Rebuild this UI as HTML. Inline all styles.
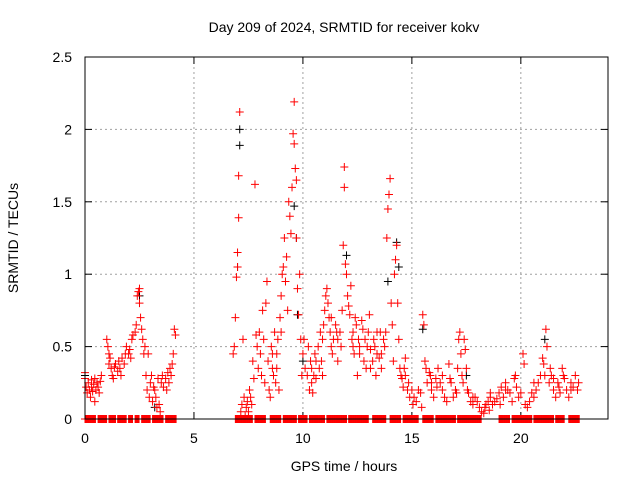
<!DOCTYPE html>
<html><head><meta charset="utf-8"><style>
body{margin:0;background:#fff}
svg{display:block;font-family:"Liberation Sans",sans-serif}
</style></head><body>
<svg id="c" width="640" height="480"></svg>
<script>
const xTicks=[0,5,10,15,20];
const yTicks=[0,0.5,1,1.5,2,2.5];
const yTickLabels=["0","0.5","1","1.5","2","2.5"];
const redTimes=[0,0,0.05,0.1,0.15,0.2,0.25,0.3,0.3,0.35,0.4,0.45,0.45,0.5,0.55,0.6,0.65,0.7,0.75,1.0,1.05,1.1,1.1,1.15,1.2,1.25,1.3,1.35,1.4,1.5,1.55,1.6,1.65,1.7,1.8,1.85,1.9,2.0,2.05,2.1,2.15,2.2,2.3,2.35,2.4,2.45,2.5,2.5,2.55,2.6,2.65,2.7,2.75,2.8,2.85,2.9,2.95,3.0,3.05,3.1,3.15,3.2,3.25,3.3,3.35,3.4,3.45,3.5,3.55,3.6,3.7,3.75,3.8,3.85,3.9,3.95,4.0,4.05,4.1,4.15,
6.8,6.85,6.9,6.95,7.0,7.0,7.05,7.05,7.1,7.15,7.2,7.25,7.3,7.35,7.4,7.45,7.5,7.55,7.6,7.65,7.7,7.75,7.8,7.85,7.9,7.95,8.0,8.05,8.1,8.15,8.2,8.25,8.3,8.35,8.4,8.45,8.5,8.55,8.6,8.65,8.7,8.75,8.8,8.85,8.9,8.95,9.0,9.05,9.1,9.15,9.2,9.25,9.3,9.35,9.4,9.45,9.5,9.55,9.6,9.6,9.65,9.7,9.7,9.75,9.8,9.85,9.9,9.95,10.0,10.05,10.1,10.2,10.25,10.3,10.35,10.4,10.45,10.5,10.55,10.6,10.7,10.75,10.8,10.85,10.9,10.95,11.0,11.05,11.1,11.15,11.2,11.25,11.3,11.35,11.4,11.5,11.55,11.6,11.7,11.75,11.8,11.85,11.9,11.9,11.95,12.0,12.05,12.1,12.15,12.2,12.25,12.3,12.35,12.4,12.45,12.5,12.55,12.6,12.7,12.75,12.8,12.85,12.9,12.95,13.0,13.05,13.1,13.2,13.25,13.3,13.35,13.4,13.5,13.55,13.6,13.7,13.75,13.8,13.85,13.9,13.95,14.0,14.05,14.1,14.15,14.2,14.25,14.3,14.35,14.4,14.45,14.5,14.55,14.6,14.65,14.7,14.8,14.85,14.9,15.0,15.05,15.1,15.2,15.3,15.4,15.45,15.5,15.55,15.6,15.65,15.7,15.8,15.85,15.9,16.0,16.1,16.15,16.2,16.3,16.4,16.5,16.6,16.7,16.75,16.8,16.9,17.0,17.05,17.1,17.15,17.2,17.25,17.3,17.35,17.4,17.45,17.5,17.55,17.6,17.7,17.8,17.9,18.0,18.1,18.2,18.3,18.35,18.4,18.5,18.55,18.6,18.7,18.8,18.9,19.0,19.05,19.1,19.2,19.3,19.4,19.5,19.6,19.7,19.75,19.8,19.9,20.0,20.1,20.15,20.2,20.3,20.4,20.5,20.6,20.7,20.8,20.9,21.0,21.05,21.1,21.15,21.2,21.3,21.35,21.4,21.5,21.6,21.7,21.75,21.8,21.9,21.95,22.0,22.1,22.2,22.3,22.4,22.5,22.6,22.65,
8.6,8.8,9.0,10.4,10.6,10.9,11.3,11.6,12.3,12.6,13.1,13.4,13.6,14.7,15.9,16.4,17.8,18.6,19.3,20.6,21.5,22.3];
const redValues=[.32,.28,.22,.18,.25,.2,.15,.22,.27,.19,.24,.28,.12,.2,.25,.22,.18,.26,.3,.55,.5,.45,.38,.42,.35,.3,.28,.36,.38,.33,.4,.35,.3,.42,.38,.45,.5,.45,.48,.42,.55,.58,.6,.65,.85,.88,.9,.8,.7,.62,.55,.45,.5,.3,.2,.45,.15,.25,.3,.12,.22,.2,.15,.08,.28,.1,.05,.25,.3,.22,.28,.2,.32,.25,.35,.3,.38,.45,.62,.58,
.45,.5,.7,.98,1.05,1.15,1.39,1.68,2.12,.05,.1,.55,.15,.02,.08,.12,.05,.2,.15,.1,.4,.28,1.62,.58,.5,.35,.6,.45,.3,.75,.55,.25,.8,.95,.4,.2,.15,.5,.35,.3,.6,.25,.45,.55,.2,.7,.85,1.0,1.05,1.25,.95,1.12,.75,1.5,1.4,1.28,1.6,1.97,2.19,1.9,1.73,1.65,1.25,.9,.72,1.0,.55,.3,.45,.55,.35,.3,.5,.2,.4,.25,.18,.3,.45,.28,.5,.35,.6,.4,.55,.65,.75,.85,.9,.8,.7,.6,.5,.45,.55,.65,.6,.4,.6,.5,.75,1.2,1.6,1.74,1.07,1.0,.85,.78,.72,.92,.55,.6,.45,.7,.65,.3,.55,.5,.68,.62,.4,.55,.35,.5,.6,.72,.48,.4,.55,.5,.3,.45,.42,.6,.35,.55,.5,.6,1.25,1.45,1.55,1.66,.8,.65,.4,1.0,1.1,1.2,.8,.55,.35,.3,.28,.22,.35,.3,.2,.25,.15,.2,.1,.15,.12,.2,.18,.08,.72,.65,.4,.35,.25,.32,.3,.2,.15,.28,.22,.35,.25,.2,.15,.12,.38,.28,.25,.15,.2,.18,.35,.55,.6,.45,.3,.25,.55,.48,.35,.2,.18,.12,.1,.15,.12,.08,.05,.04,.08,.1,.12,.06,.15,.1,.12,.14,.18,.1,.22,.15,.25,.2,.18,.12,.28,.3,.22,.15,.18,.45,.38,.1,.08,.12,.18,.15,.2,.25,.3,.42,.38,.3,.62,.5,.25,.35,.3,.2,.15,.25,.22,.18,.35,.3,.28,.2,.15,.25,.22,.3,.2,.25,
.45,.35,.6,.35,.4,.3,.7,.55,.5,.45,.35,.6,.45,.42,.25,.3,.15,.18,.2,.25,.28,.2];
const blackTimes=[0,2.5,3.2,7.0,7.1,7.1,9.6,9.7,9.75,10.0,12.0,13.9,14.3,14.4,15.5,17.5,21.1];
const blackValues=[.3,.85,.08,1.05,2.0,1.89,1.47,1.25,.72,.4,1.13,.95,1.22,1.05,.62,.3,.55];
const zeroRanges=[[0,0.5],[0.6,1.0],[1.1,1.4],[1.5,1.9],[2.0,2.2],[2.3,2.5],[2.6,3.0],[3.1,3.6],[3.7,4.2],[6.9,7.7],[7.8,8.3],[8.5,9.0],[9.1,9.7],[9.8,10.2],[10.3,11.0],[11.1,12.0],[12.1,13.0],[13.2,13.8],[14.0,14.5],[14.6,15.3],[15.5,16.0],[16.1,17.0],[17.1,18.2],[19.0,19.5],[19.6,20.5],[20.6,21.5],[21.6,22.0],[22.2,22.7]];

const svg=document.getElementById('c');const NS='http://www.w3.org/2000/svg';
const L=85,R=608,T=57,B=419;
const sx=t=>L+(t/24)*(R-L), sy=v=>B-(v/2.5)*(B-T);
function mk(tag,attrs,parent){const e=document.createElementNS(NS,tag);for(const k in attrs)e.setAttribute(k,attrs[k]);(parent||svg).appendChild(e);return e;}
const grid=mk('g',{stroke:'#a0a0a0','stroke-width':1,'stroke-dasharray':'2,3'});


xTicks.forEach(t=>{if(t>0)mk('line',{x1:sx(t),x2:sx(t),y1:T,y2:B},grid);});
yTicks.forEach(v=>{if(v>0&&v<2.5)mk('line',{x1:L,x2:R,y1:sy(v),y2:sy(v)},grid);});
const ax=mk('g',{stroke:'#000','stroke-width':1});


xTicks.forEach(t=>{mk('line',{x1:sx(t),x2:sx(t),y1:B,y2:B-7},ax);mk('line',{x1:sx(t),x2:sx(t),y1:T,y2:T+7},ax);
 const tx=mk('text',{x:sx(t),y:443,'text-anchor':'middle','font-size':14,fill:'#000',stroke:'none'});tx.textContent=t;
 
 });
yTicks.forEach((v,i)=>{mk('line',{x1:L,x2:L+7,y1:sy(v),y2:sy(v)},ax);mk('line',{x1:R,x2:R-7,y1:sy(v),y2:sy(v)},ax);
 const tx=mk('text',{x:72,y:sy(v)+5,'text-anchor':'end','font-size':14,fill:'#000',stroke:'none'});tx.textContent=yTickLabels[i];
 
 });
function plus(g,x,y){mk('path',{d:`M${x-4},${y}h8M${x},${y-4}v8`},g);}
const zg=mk('g',{stroke:'#ff0000','stroke-width':1,fill:'none'});


zeroRanges.forEach(r=>{for(let t=r[0];t<=r[1]+1e-9;t+=0.03)plus(zg,sx(t),sy(0));});
const bg=mk('g',{stroke:'#000','stroke-width':1,fill:'none'});


blackTimes.forEach((t,i)=>plus(bg,sx(t),sy(blackValues[i])));
const rg=mk('g',{stroke:'#ff0000','stroke-width':1,fill:'none'});


redTimes.forEach((t,i)=>plus(rg,sx(t),sy(redValues[i])));
const fr=mk('rect',{x:L,y:T,width:R-L,height:B-T,fill:'none',stroke:'#000','stroke-width':1});


const tt=mk('text',{x:344,y:32,'text-anchor':'middle','font-size':14});tt.textContent='Day 209 of 2024, SRMTID for receiver kokv';


const xl=mk('text',{x:344,y:471,'text-anchor':'middle','font-size':14});xl.textContent='GPS time / hours';


const yl=mk('text',{x:0,y:0,'text-anchor':'middle','font-size':14,transform:'translate(18,238) rotate(-90)'});yl.textContent='SRMTID / TECUs';


</script>
</body></html>
